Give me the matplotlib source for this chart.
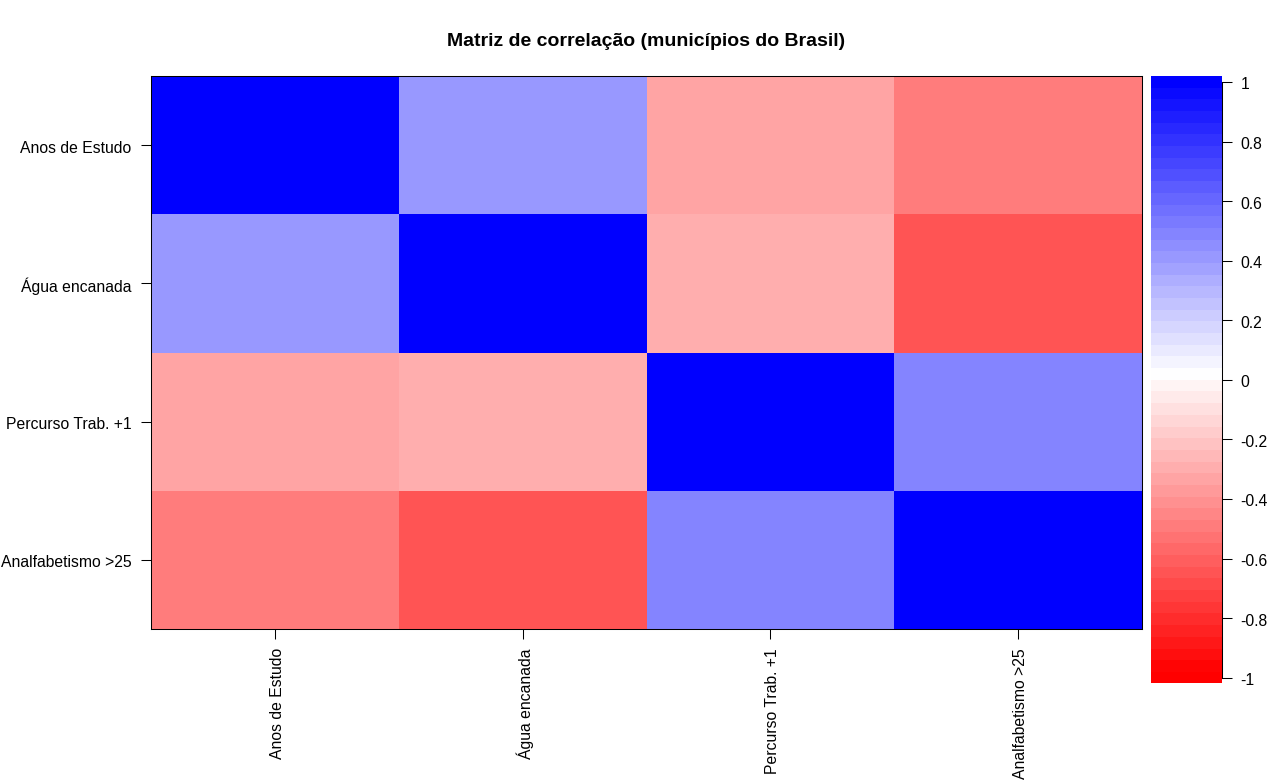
import matplotlib
import numpy as np
import matplotlib.pyplot as plt
from matplotlib.colors import BoundaryNorm, LinearSegmentedColormap, ListedColormap
from matplotlib.transforms import ScaledTranslation

matplotlib.use('Agg')

plt.rcParams['font.family'] = ['Liberation Sans', 'DejaVu Sans']
plt.rcParams['axes.linewidth'] = 0.75

labels = ['Anos de Estudo', 'Água encanada', 'Percurso Trab. +1', 'Analfabetismo >25']
row_labels = ['Anos de Estudo', 'Água encanada', 'Percurso Trab. +1', 'Analfabetismo >25']

row_anos = [1.0, 0.40, -0.34, -0.50]
row_agua = [0.40, 1.0, -0.30, -0.63]
row_percurso = [-0.34, -0.30, 1.0, 0.48]
row_analf = [-0.50, -0.63, 0.48, 1.0]

bar_ticks = [1, 0.8, 0.6, 0.4, 0.2, 0, -0.2, -0.4, -0.6, -0.8, -1]
bar_tick_labels = ['1', '0.8', '0.6', '0.4', '0.2', '0', '-0.2', '-0.4', '-0.6', '-0.8', '-1']

W, H = 1280, 780


def px_axes(fig, left, top, right, bottom):
    return fig.add_axes([left / W, 1 - bottom / H, (right - left) / W, (bottom - top) / H])


def nudge(fig, tick_labels, dx, dy):
    # small pixel shifts, dy positive is downwards
    offset = ScaledTranslation(dx / 100, -dy / 100, fig.dpi_scale_trans)
    for label in tick_labels:
        label.set_transform(label.get_transform() + offset)


# 52 colour bands, the white one sits just above zero
edges = np.linspace(-1.02, 1.02, 53)
ramp = LinearSegmentedColormap.from_list('rwb', ['#FF0000', '#FFFFFF', '#0000FF'])
band_vals = np.clip(edges[:-1], -1, None)
band_vals[26:] = np.linspace(0, 1, 26)
cmap = ListedColormap([ramp((v + 1) / 2) for v in band_vals])
norm = BoundaryNorm(edges, cmap.N)

matrix = np.array([row_anos, row_agua, row_percurso, row_analf])

fig = plt.figure(figsize=(W / 100, H / 100), dpi=100)

ax = px_axes(fig, 151, 76, 1142, 629)
ax.pcolormesh(np.arange(5), np.arange(5), matrix, cmap=cmap, norm=norm)
ax.set_xlim(0, 4)
ax.set_ylim(4, 0)
ax.set_xticks(np.arange(4) + 0.5)
ax.set_xticklabels(labels, rotation=90, fontsize=11.3)
ax.set_yticks(np.arange(4) + 0.5)
ax.set_yticklabels(row_labels, fontsize=11.3)
ax.tick_params(length=7.2, width=0.75, pad=6.5)
nudge(fig, ax.get_xticklabels(), 2.5, 0)
nudge(fig, ax.get_yticklabels(), -0.5, 1.5)

fig.text(646 / W, 1 - 41.5 / H, 'Matriz de correlação (municípios do Brasil)',
         ha='center', va='center', fontsize=14, fontweight='bold')

cax = px_axes(fig, 1151, 76, 1222, 683)
cax.pcolormesh([0, 1], edges, ((edges[:-1] + edges[1:]) / 2).reshape(-1, 1), cmap=cmap, norm=norm)
cax.set_xlim(0, 1)
cax.set_ylim(-1.018, 1.02)
cax.set_xticks([])
cax.yaxis.tick_right()
cax.set_yticks(bar_ticks)
cax.set_yticklabels(bar_tick_labels, fontsize=11.3)
cax.tick_params(length=7.2, width=0.75, pad=6)
nudge(fig, cax.get_yticklabels(), 0, 1.5)
for side in ['top', 'bottom', 'left']:
    cax.spines[side].set_visible(False)
cax.spines['right'].set_bounds(-1, 1)

plt.savefig('out.png', dpi=100)
